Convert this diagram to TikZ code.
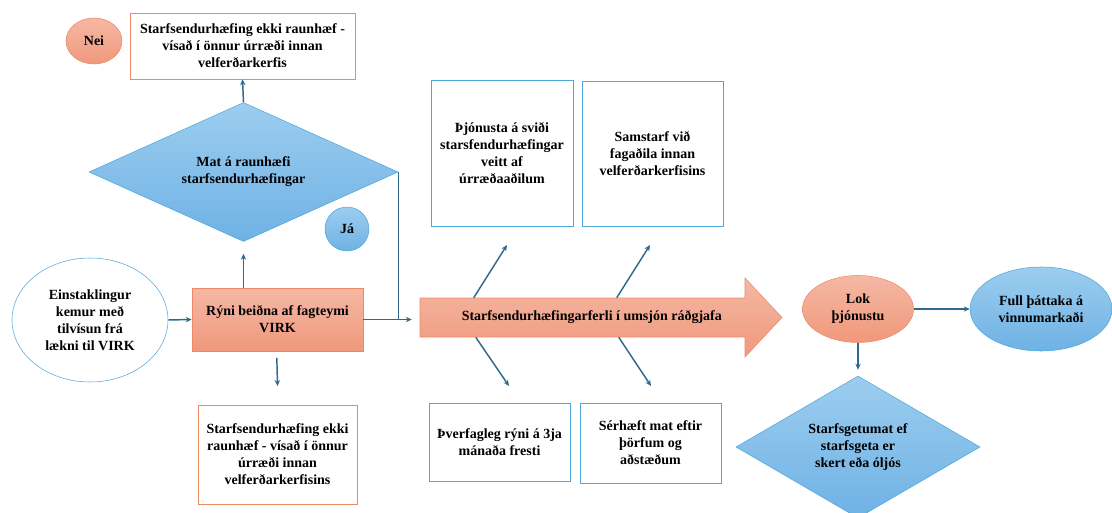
\documentclass[tikz,border=0pt]{standalone}
\usepackage{fontspec}
\setmainfont{Liberation Serif}
\usetikzlibrary{shapes.geometric,arrows.meta}
\definecolor{salmontop}{HTML}{F5B8A4}
\definecolor{salmonbot}{HTML}{F0987C}
\definecolor{salmonline}{HTML}{EC8A66}
\definecolor{skytop}{HTML}{9DCDEF}
\definecolor{skybot}{HTML}{6EB2E5}
\definecolor{skyline}{HTML}{4DA8DC}
\definecolor{flowblue}{HTML}{2F6A8E}

\begin{document}
\begin{tikzpicture}[x=0.75pt, y=-0.75pt,
    font=\bfseries\fontsize{10.5}{12.75}\selectfont,
    salmon/.style={draw=salmonline, top color=salmontop, bottom color=salmonbot, align=center, inner sep=0pt},
    sky/.style={draw=skyline, top color=skytop, bottom color=skybot, align=center, inner sep=0pt},
    obox/.style={draw=salmonline, fill=white, align=center, inner sep=0pt},
    bbox/.style={draw=skyline, fill=white, align=center, inner sep=0pt},
    flow/.style={draw=flowblue, line width=1.1pt, -{Stealth[length=4.5pt,width=4pt]}}]
  \useasboundingbox (0,0) rectangle (1112,513);

  % upper branch
  \node[salmon, ellipse, minimum width=42pt, minimum height=34.5pt] (nei) at (94,41) {Nei};
  \node[obox, minimum width=168.75pt, minimum height=49.5pt] (ekkitop) at (242.5,46)
    {Starfsendurhæfing ekki raunhæf -\\vísað í önnur úrræði innan\\velferðarkerfis};
  \node[sky, diamond, aspect=2.2, minimum width=231.75pt, minimum height=104.25pt] (mat) at (243.5,172)
    {Mat á raunhæfi\\starfsendurhæfingar};
  \node[sky, circle, minimum size=33pt] (ja) at (347,229) {Já};

  % start
  \node[draw=skyline, fill=white, ellipse, align=center, inner sep=0pt, minimum width=117pt, minimum height=93pt] (einst) at (90,320)
    {Einstaklingur\\kemur með\\tilvísun frá\\lækni til VIRK};
  \node[salmon, minimum width=128.25pt, minimum height=47.25pt] (ryni) at (277.5,319.5)
    {Rýni beiðna af fagteymi\\VIRK};
  \node[obox, minimum width=119.25pt, minimum height=74.25pt] (ekkibot) at (277.5,454.5)
    {Starfsendurhæfing ekki\\raunhæf - vísað í önnur\\úrræði innan\\velferðarkerfisins};

  % main process arrow
  \draw[salmonline, top color=salmontop, bottom color=salmonbot]
    (420,298) -- (745,298) -- (745,278) -- (782,317.5) -- (745,357) -- (745,337) -- (420,337) -- cycle;
  \node[minimum width=243.75pt, minimum height=29.25pt, inner sep=0pt] (ferli) at (582.5,317.5)
    {\hspace*{14pt}Starfsendurhæfingarferli í umsjón ráðgjafa};

  \node[bbox, minimum width=106.5pt, minimum height=109.5pt] (thjon) at (502,153)
    {Þjónusta á sviði\\starsfendurhæfingar\\veitt af\\úrræðaaðilum};
  \node[bbox, minimum width=105.75pt, minimum height=108.75pt] (samst) at (652.5,153.5)
    {Samstarf við\\fagaðila innan\\velferðarkerfisins};
  \node[bbox, minimum width=105.75pt, minimum height=58.5pt] (thverf) at (499.5,442)
    {Þverfagleg rýni á 3ja\\mánaða fresti};
  \node[bbox, minimum width=105.75pt, minimum height=60pt] (serh) at (650.5,443)
    {Sérhæft mat eftir\\þörfum og\\aðstæðum};

  % end
  \node[salmon, ellipse, minimum width=83.25pt, minimum height=50.25pt] (lok) at (858,309)
    {Lok\\þjónustu};
  \node[sky, ellipse, minimum width=106.5pt, minimum height=63pt] (full) at (1041,309)
    {Full þáttaka á\\vinnumarkaði};
  \node[sky, diamond, aspect=1.7, minimum width=183pt, minimum height=106.5pt] (getu) at (858,447)
    {Starfsgetumat ef\\starfsgeta er\\skert eða óljós};

  \coordinate (upA) at (507,245);
  \coordinate (upB) at (650,245);
  \coordinate (dnA) at (509,386);
  \coordinate (dnB) at (651,386);

  % connectors
  \draw[flow] (mat.north) -- (ekkitop.south);
  \draw[flow] (einst.east) -- (ryni.west);
  \draw[flow] (ryni.north -| mat.south) -- ([yshift=-9pt]mat.south);
  \draw[flow] ([xshift=-0.5pt,yshift=-5pt]ryni.south) -- ([yshift=14pt]ekkibot.north);
  \draw[flow] (ryni.east) -- ([xshift=-6pt]ferli.west |- ryni.east);
  \draw[draw=flowblue, line width=1.1pt] (mat.east) -- (mat.east |- ryni.east);
  \draw[flow] ([xshift=40.5pt]ferli.north west) -- (upA);
  \draw[flow] ([xshift=147.75pt]ferli.north west) -- (upB);
  \draw[flow] ([xshift=42pt]ferli.south west) -- (dnA);
  \draw[flow] ([xshift=149.25pt]ferli.south west) -- (dnB);
  \draw[flow] (lok.east) -- (full.west);
  \draw[flow] (lok.south) -- ([yshift=4.5pt]getu.north);
\end{tikzpicture}
\end{document}
